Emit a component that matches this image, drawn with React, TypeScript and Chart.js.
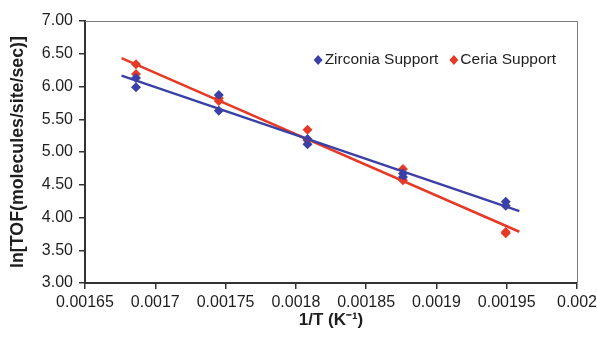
import React, { useEffect, useRef } from "react";
import { Chart, registerables } from "chart.js";

Chart.register(...registerables);

// Inverse temperature (1/K) of each measurement
const invTemperature = [0.0016863, 0.0017452, 0.0018083, 0.0018762, 0.0019493];

// ln(TOF) for the two repeat runs of each catalyst
const zirconiaRunA = [6.13, 5.87, 5.2, 4.67, 4.24];
const zirconiaRunB = [5.99, 5.63, 5.12, 4.62, 4.18];
const ceriaRunA = [6.34, 5.82, 5.34, 4.74, 3.78];
const ceriaRunB = [6.19, 5.78, 5.18, 4.57, 3.76];

// Extent of the fitted Arrhenius lines
const fitStart = 0.001676;
const fitEnd = 0.001959;

// Axis ticks
const xTickValues = [0.00165, 0.0017, 0.00175, 0.0018, 0.00185, 0.0019, 0.00195, 0.002];
const xTickLabels = ["0.00165", "0.0017", "0.00175", "0.0018", "0.00185", "0.0019", "0.00195", "0.002"];
const yTickValues = [3, 3.5, 4, 4.5, 5, 5.5, 6, 6.5, 7];

const seriesNames = ["Zirconia Support", "Ceria Support"];
const BLUE = "#3a40a6";
const RED = "#e63a27";
const FONT = "'Liberation Sans', Arial, sans-serif";

function points(runs: number[][]) {
  const out: { x: number; y: number }[] = [];
  runs.forEach((run) => run.forEach((y, i) => out.push({ x: invTemperature[i], y })));
  return out;
}

function fitLine(pts: { x: number; y: number }[]) {
  const n = pts.length;
  const mx = pts.reduce((s, p) => s + p.x, 0) / n;
  const my = pts.reduce((s, p) => s + p.y, 0) / n;
  let sxy = 0;
  let sxx = 0;
  pts.forEach((p) => {
    sxy += (p.x - mx) * (p.y - my);
    sxx += (p.x - mx) * (p.x - mx);
  });
  const slope = sxy / sxx;
  const at = (x: number) => my + slope * (x - mx);
  return [
    { x: fitStart, y: at(fitStart) },
    { x: fitEnd, y: at(fitEnd) },
  ];
}

// Frame on the top and right of the plot area
const framePlugin = {
  id: "plotFrame",
  beforeDatasetsDraw(chart: any) {
    const { ctx, chartArea } = chart;
    ctx.save();
    ctx.strokeStyle = "#7a7a7a";
    ctx.lineWidth = 1;
    ctx.beginPath();
    ctx.moveTo(chartArea.left, chartArea.top + 0.5);
    ctx.lineTo(chartArea.right + 0.5, chartArea.top + 0.5);
    ctx.lineTo(chartArea.right + 0.5, chartArea.bottom);
    ctx.stroke();
    ctx.restore();
  },
};

// Legend drawn inside the plot area, top right
const insideLegendPlugin = {
  id: "insideLegend",
  afterDraw(chart: any) {
    const { ctx, chartArea } = chart;
    const colors = [BLUE, RED];
    ctx.save();
    ctx.font = `15.5px ${FONT}`;
    ctx.textBaseline = "middle";
    ctx.textAlign = "left";
    const markerW = 9;
    const gapMarker = 2;
    const gapItem = 11;
    const widths = seriesNames.map((s) => ctx.measureText(s).width);
    const total = widths.reduce((a, w) => a + markerW + gapMarker + w, 0) + gapItem * (seriesNames.length - 1);
    let x = chartArea.right - 21 - total;
    const y = chartArea.top + 39;
    seriesNames.forEach((name, i) => {
      const cx = x + markerW / 2;
      ctx.fillStyle = colors[i];
      ctx.beginPath();
      ctx.moveTo(cx, y - 5);
      ctx.lineTo(cx + 4.5, y);
      ctx.lineTo(cx, y + 5);
      ctx.lineTo(cx - 4.5, y);
      ctx.closePath();
      ctx.fill();
      ctx.fillStyle = "#1e1e1e";
      ctx.fillText(name, x + markerW + gapMarker, y);
      x += markerW + gapMarker + widths[i] + gapItem;
    });
    ctx.restore();
  },
};

export default function App() {
  const canvasRef = useRef<HTMLCanvasElement | null>(null);

  useEffect(() => {
    document.body.style.margin = "0";
    const canvas = canvasRef.current;
    if (!canvas) return;

    const zirconia = points([zirconiaRunA, zirconiaRunB]);
    const ceria = points([ceriaRunA, ceriaRunB]);

    const chart = new Chart(canvas, {
      type: "scatter",
      data: {
        datasets: [
          {
            label: seriesNames[0] + " fit",
            data: fitLine(zirconia),
            showLine: true,
            borderColor: BLUE,
            borderWidth: 2.5,
            pointRadius: 0,
          },
          {
            label: seriesNames[1] + " fit",
            data: fitLine(ceria),
            showLine: true,
            borderColor: RED,
            borderWidth: 2.5,
            pointRadius: 0,
          },
          {
            label: seriesNames[0],
            data: zirconia,
            pointStyle: "rectRot",
            pointRadius: 5,
            backgroundColor: BLUE,
            borderColor: BLUE,
            borderWidth: 0,
          },
          {
            label: seriesNames[1],
            data: ceria,
            pointStyle: "rectRot",
            pointRadius: 5,
            backgroundColor: RED,
            borderColor: RED,
            borderWidth: 0,
          },
        ],
      },
      options: {
        responsive: false,
        animation: false,
        devicePixelRatio: 1,
        layout: { padding: { top: 21, right: 20, left: 0, bottom: 0 } },
        plugins: {
          legend: { display: false },
          tooltip: { enabled: false },
        },
        scales: {
          x: {
            type: "linear",
            min: xTickValues[0],
            max: xTickValues[xTickValues.length - 1],
            afterBuildTicks: (axis: any) => {
              axis.ticks = xTickValues.map((v) => ({ value: v }));
            },
            afterFit: (axis: any) => {
              axis.height = 54;
              axis.paddingLeft = 0;
              axis.paddingRight = 0;
            },
            ticks: {
              autoSkip: false,
              maxRotation: 0,
              padding: 4,
              color: "#1e1e1e",
              font: { family: FONT, size: 16 },
              callback: (v: any) => {
                const i = xTickValues.findIndex((t) => Math.abs(t - Number(v)) < 1e-9);
                return i >= 0 ? xTickLabels[i] : "";
              },
            },
            grid: {
              display: true,
              drawOnChartArea: false,
              drawTicks: true,
              tickLength: 6,
              color: "#333",
              lineWidth: 1.5,
            },
            border: { display: true, color: "#333", width: 2 },
            title: {
              display: true,
              text: "1/T (K⁻¹)",
              color: "#1e1e1e",
              font: { family: FONT, size: 17, weight: "bold" },
              padding: { top: 0, bottom: 6 },
            },
          },
          y: {
            type: "linear",
            min: yTickValues[0],
            max: yTickValues[yTickValues.length - 1],
            afterBuildTicks: (axis: any) => {
              axis.ticks = yTickValues.map((v) => ({ value: v }));
            },
            afterFit: (axis: any) => {
              axis.width = 85;
              axis.paddingTop = 0;
              axis.paddingBottom = 0;
            },
            ticks: {
              autoSkip: false,
              padding: 6,
              color: "#1e1e1e",
              font: { family: FONT, size: 16 },
              callback: (v: any) => Number(v).toFixed(2),
            },
            grid: {
              display: true,
              drawOnChartArea: false,
              drawTicks: true,
              tickLength: 6,
              color: "#333",
              lineWidth: 1.5,
            },
            border: { display: true, color: "#333", width: 2 },
            title: {
              display: true,
              text: "ln[TOF(molecules/site/sec)]",
              color: "#1e1e1e",
              font: { family: FONT, size: 17.8, weight: "bold" },
              padding: { top: 7, bottom: 0 },
            },
          },
        },
      },
      plugins: [framePlugin, insideLegendPlugin],
    } as any);

    return () => chart.destroy();
  }, []);

  return (
    <div style={{ position: "absolute", left: 0, top: 0, width: 597, height: 337, background: "#fff" }}>
      <canvas ref={canvasRef} width={597} height={337} />
    </div>
  );
}
